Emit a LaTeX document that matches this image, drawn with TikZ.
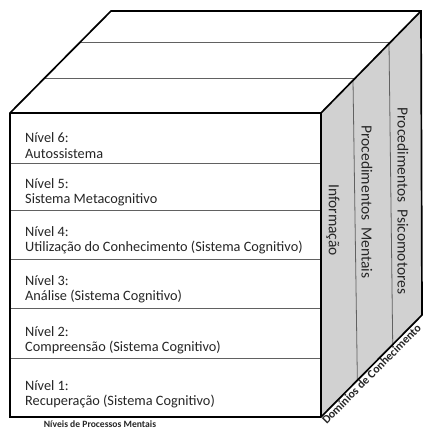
\documentclass[tikz,border=0pt]{standalone}
\usepackage{fontspec}
\setmainfont{Carlito}
\usetikzlibrary{calc}
\begin{document}
\begin{tikzpicture}[x=1pt, y=-1pt,
  edgeline/.style={draw=black, line width=1.7pt, line join=miter},
  split/.style={draw=black!62, line width=0.8pt},
  lvl/.style={anchor=west, align=left, inner sep=0pt, text=black!85,
    font=\fontsize{14.3}{15.2}\selectfont},
  dom/.style={rotate=-90, inner sep=0pt, text=black!85,
    font=\fontsize{15.5}{16}\selectfont}]
  \useasboundingbox (0,0) rectangle (424,435);
  % corners of the cube
  \coordinate (ftl) at (10,113);
  \coordinate (ftr) at (321,113);
  \coordinate (fbl) at (10,417);
  \coordinate (fbr) at (321,417);
  \coordinate (btl) at (111,11);
  \coordinate (btr) at (421,11);
  \coordinate (bbr) at (422,315);
  % faces
  \fill[white] (ftl) -- (btl) -- (btr) -- (ftr) -- cycle;
  \fill[black!18] (ftr) -- (btr) -- (bbr) -- (fbr) -- cycle;
  \fill[white] (ftl) rectangle (fbr);
  % top face strips
  \draw[split] ($(ftl)!0.34!(btl)$) -- ($(ftr)!0.34!(btr)$);
  \draw[split] ($(ftl)!0.69!(btl)$) -- ($(ftr)!0.69!(btr)$);
  % knowledge domains on the right face
  \draw[split] ($(ftr)!0.32!(btr)$) -- ($(fbr)!0.36!(bbr)$);
  \draw[split] ($(ftr)!0.68!(btr)$) -- ($(fbr)!0.71!(bbr)$);
  % level dividers
  \foreach \yy in {163,210,259,308,358}
    \draw[split] (10,\yy) -- (321,\yy);
  % outline
  \draw[edgeline] (fbl) -- (ftl) -- (btl) -- (btr) -- (bbr) -- (fbr) -- cycle;
  \draw[edgeline] (ftl) -- (ftr) -- (fbr);
  \draw[edgeline] (ftr) -- (btr);
  % levels
  \node[lvl] (n6) at (25,145.5) {Nível 6:\\Autossistema};
  \node[lvl] (n5) at (25,192.5) {Nível 5:\\Sistema Metacognitivo};
  \node[lvl] (n4) at (25,240.5) {Nível 4:\\Utilização do Conhecimento (Sistema Cognitivo)};
  \node[lvl] (n3) at (25,289.5) {Nível 3:\\Análise (Sistema Cognitivo)};
  \node[lvl] (n2) at (25,340.5) {Nível 2:\\Compreensão (Sistema Cognitivo)};
  \node[lvl] (n1) at (25,394.5) {Nível 1:\\Recuperação (Sistema Cognitivo)};
  % domains
  \node[dom] (inf) at (333,220) {Informação};
  \node[dom] (pme) at (367,202) {Procedimentos~ Mentais};
  \node[dom] (pps) at (403,201) {Procedimentos~ Psicomotores};
  % axis titles
  \node[font=\bfseries\fontsize{9.6}{10}\selectfont, text=black!85] (nivt) at (100,424) {Níveis de Processos Mentais};
  \path (fbr) -- (bbr) node[pos=0.46, sloped, below, inner sep=1.2pt, text=black!85,
    font=\bfseries\fontsize{11.8}{12}\selectfont] (domt) {Domínios de Conhecimento};
\end{tikzpicture}
\end{document}
